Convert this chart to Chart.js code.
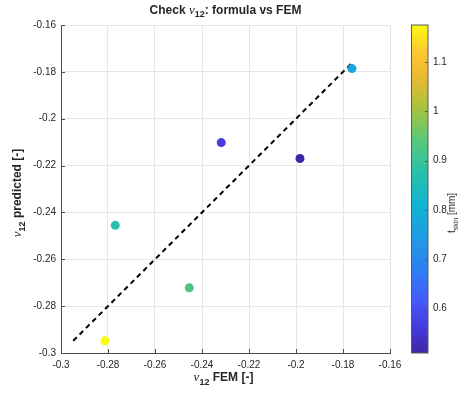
<!DOCTYPE html>
<html>
<head>
<meta charset="utf-8">
<script src="https://cdn.jsdelivr.net/npm/chart.js@4.4.1/dist/chart.umd.min.js"></script>
<style>
  html, body { margin: 0; padding: 0; background: #fff; }
  #wrap { width: 462px; height: 396px; }
</style>
</head>
<body>
<div id="wrap"><canvas id="myChart" width="462" height="396"></canvas></div>
<script>
// nu12 from FEM vs nu12 from the formula, coloured by skin thickness
const femNu  = [-0.2813, -0.2769, -0.2454, -0.2318, -0.1983, -0.1762];
const predNu = [-0.2948, -0.2455, -0.2722, -0.2102, -0.2170, -0.1786];
const tSkin  = [1.175, 0.87, 0.92, 0.565, 0.51, 0.775];

// y = x reference, from the smallest to the largest nu12 value
const refEnds = [-0.2948, -0.1762];

const xTicks  = [-0.3, -0.28, -0.26, -0.24, -0.22, -0.2, -0.18, -0.16];
const yTicks  = [-0.3, -0.28, -0.26, -0.24, -0.22, -0.2, -0.18, -0.16];
const cbTicks = [0.6, 0.7, 0.8, 0.9, 1, 1.1];

const tMin = Math.min(...tSkin);
const tMax = Math.max(...tSkin);

// parula-like colormap stops
const parula = [
  [0.00, 62, 38, 168],
  [0.08, 70, 58, 220],
  [0.16, 70, 90, 250],
  [0.25, 45, 125, 244],
  [0.35, 32, 155, 228],
  [0.45, 16, 180, 208],
  [0.55, 40, 192, 170],
  [0.65, 90, 200, 120],
  [0.75, 170, 195, 60],
  [0.85, 240, 185, 50],
  [0.92, 252, 200, 50],
  [1.00, 249, 251, 14]
];

function cmap(f) {
  f = Math.max(0, Math.min(1, f));
  for (let i = 1; i < parula.length; i++) {
    const a = parula[i - 1], b = parula[i];
    if (f <= b[0]) {
      const u = (f - a[0]) / (b[0] - a[0]);
      const c = [1, 2, 3].map(k => Math.round(a[k] + u * (b[k] - a[k])));
      return `rgb(${c[0]},${c[1]},${c[2]})`;
    }
  }
  return 'rgb(249,251,14)';
}

const pointColors = tSkin.map(t => cmap((t - tMin) / (tMax - tMin)));

const SANS = '"Liberation Sans", Arial, sans-serif';
const SERIF = '"Liberation Serif", "Times New Roman", serif';
const txt = '#262626';

// text with the nu symbol and subscripts
function drawRich(ctx, parts, x, y, rot) {
  ctx.save();
  ctx.translate(x, y);
  if (rot) ctx.rotate(rot);
  let w = 0;
  parts.forEach(p => { ctx.font = p.f; w += ctx.measureText(p.t).width; });
  let cx = -w / 2;
  ctx.textBaseline = 'alphabetic';
  ctx.textAlign = 'left';
  ctx.fillStyle = txt;
  parts.forEach(p => {
    ctx.font = p.f;
    ctx.fillText(p.t, cx, p.dy || 0);
    cx += ctx.measureText(p.t).width;
  });
  ctx.restore();
}

// keep the plot box fixed: no extra room for end labels
function noPad(s) {
  s.paddingTop = 0;
  s.paddingBottom = 0;
  s.paddingLeft = 0;
  s.paddingRight = 0;
}

const decorations = {
  id: 'decorations',
  afterDraw(chart) {
    const ctx = chart.ctx;
    const area = chart.chartArea;
    const xs = chart.scales.x, ys = chart.scales.y, cb = chart.scales.cb;

    // inward tick marks on the bottom and left axes
    ctx.save();
    ctx.strokeStyle = '#4d4d4d';
    ctx.lineWidth = 1;
    ctx.beginPath();
    xTicks.forEach(v => {
      const px = Math.round(xs.getPixelForValue(v)) + 0.5;
      ctx.moveTo(px, area.bottom);
      ctx.lineTo(px, area.bottom - 4);
    });
    yTicks.forEach(v => {
      const py = Math.round(ys.getPixelForValue(v)) + 0.5;
      ctx.moveTo(area.left, py);
      ctx.lineTo(area.left + 4, py);
    });
    ctx.stroke();

    // colorbar
    const bx = cb.left + 21.5, bw = 16.5;
    const top = cb.getPixelForValue(tMax), bot = cb.getPixelForValue(tMin);
    const grad = ctx.createLinearGradient(0, bot, 0, top);
    parula.forEach(s => grad.addColorStop(s[0], `rgb(${s[1]},${s[2]},${s[3]})`));
    ctx.fillStyle = grad;
    ctx.fillRect(bx, top, bw, bot - top);
    ctx.strokeStyle = '#5a5a5a';
    ctx.strokeRect(bx, top, bw, bot - top);
    ctx.beginPath();
    cbTicks.forEach(v => {
      const py = Math.round(cb.getPixelForValue(v)) + 0.5;
      ctx.moveTo(bx + bw, py);
      ctx.lineTo(bx + bw - 3, py);
    });
    ctx.stroke();
    ctx.restore();

    const midX = (area.left + area.right) / 2;
    const midY = (area.top + area.bottom) / 2;
    const B12 = `bold 12px ${SANS}`;
    const B9 = `bold 9px ${SANS}`;
    const NU = `italic 13px ${SERIF}`;

    // title
    drawRich(ctx, [
      { t: 'Check ', f: B12 },
      { t: 'ν', f: NU },
      { t: '12', f: B9, dy: 3.5 },
      { t: ': formula vs FEM', f: B12 }
    ], midX, 13.5);

    // x label
    drawRich(ctx, [
      { t: 'ν', f: NU },
      { t: '12', f: B9, dy: 3.5 },
      { t: ' FEM [-]', f: B12 }
    ], midX - 2, 381);

    // y label
    drawRich(ctx, [
      { t: 'ν', f: NU },
      { t: '12', f: B9, dy: 3.5 },
      { t: ' predicted [-]', f: B12 }
    ], 21, midY + 4, -Math.PI / 2);

    // colorbar label
    drawRich(ctx, [
      { t: 't', f: `10px ${SANS}` },
      { t: 'skin', f: `7px ${SANS}`, dy: 2.5 },
      { t: ' [mm]', f: `10px ${SANS}` }
    ], 455, 213, -Math.PI / 2);
  }
};

const ctx = document.getElementById('myChart').getContext('2d');
const myChart = new Chart(ctx, {
  type: 'scatter',
  data: {
    datasets: [
      {
        label: 'points',
        data: femNu.map((x, i) => ({ x: x, y: predNu[i] })),
        backgroundColor: pointColors,
        borderWidth: 0,
        pointRadius: 4.5,
        order: 1
      },
      {
        type: 'line',
        label: 'y = x',
        data: refEnds.map(v => ({ x: v, y: v })),
        borderColor: '#000',
        borderWidth: 2,
        borderDash: [5, 4],
        pointRadius: 0,
        fill: false,
        order: 2
      }
    ]
  },
  options: {
    responsive: false,
    animation: false,
    layout: { padding: { top: 25, right: 0, left: 0, bottom: 0 } },
    plugins: {
      legend: { display: false },
      tooltip: { enabled: false },
      title: { display: false }
    },
    scales: {
      x: {
        type: 'linear',
        min: -0.3,
        max: -0.16,
        afterBuildTicks: s => { s.ticks = xTicks.map(v => ({ value: v })); },
        afterFit: s => { s.height = 43; noPad(s); },
        grid: { color: '#e6e6e6', drawTicks: false },
        border: { color: '#4d4d4d' },
        ticks: {
          padding: 6,
          color: txt,
          font: { family: SANS, size: 10 },
          maxRotation: 0,
          callback: v => String(+v.toFixed(2))
        }
      },
      y: {
        type: 'linear',
        min: -0.3,
        max: -0.16,
        afterBuildTicks: s => { s.ticks = yTicks.map(v => ({ value: v })); },
        afterFit: s => { s.width = 61; noPad(s); },
        grid: { color: '#e6e6e6', drawTicks: false },
        border: { color: '#4d4d4d' },
        ticks: {
          padding: 5,
          color: txt,
          font: { family: SANS, size: 10 },
          callback: v => String(+v.toFixed(2))
        }
      },
      cb: {
        type: 'linear',
        axis: 'y',
        position: 'right',
        min: tMin,
        max: tMax,
        afterBuildTicks: s => { s.ticks = cbTicks.map(v => ({ value: v })); },
        afterFit: s => { s.width = 72; noPad(s); },
        grid: { display: false, drawTicks: false },
        border: { display: false },
        ticks: {
          padding: 43,
          color: txt,
          font: { family: SANS, size: 10 },
          callback: v => String(+v.toFixed(2))
        }
      }
    }
  },
  plugins: [decorations]
});
</script>
</body>
</html>
